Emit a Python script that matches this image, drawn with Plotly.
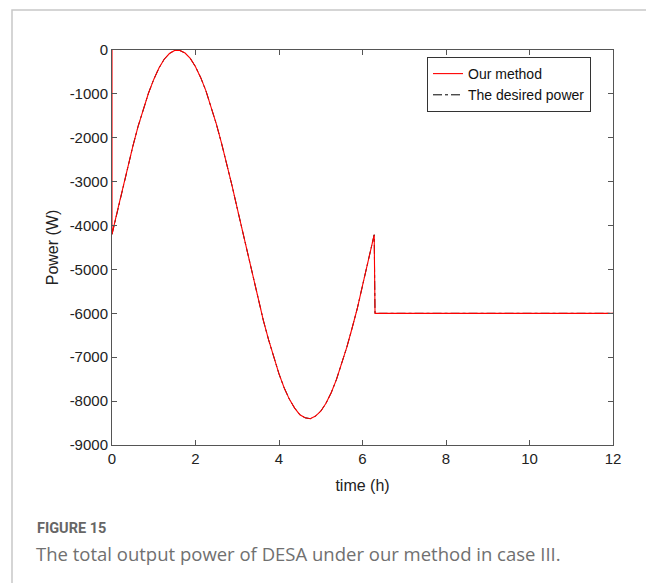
import plotly.graph_objects as go

# Time (h) and power (W)
time_h = [0, 0, 0.125, 0.25, 0.375, 0.5, 0.625, 0.75, 0.875, 1.0, 1.125, 1.25, 1.375, 1.5,
          1.625, 1.75, 1.875, 2.0, 2.125, 2.25, 2.375, 2.5, 2.625, 2.75, 2.875, 3.0, 3.125,
          3.25, 3.375, 3.5, 3.625, 3.75, 3.875, 4.0, 4.125, 4.25, 4.375, 4.5, 4.625, 4.75,
          4.875, 5.0, 5.125, 5.25, 5.375, 5.5, 5.625, 5.75, 5.875, 6.0, 6.125, 6.25, 6.28,
          6.3, 12]
our_method = [0, -4200, -3680, -3160, -2660, -2190, -1740, -1340, -980, -670, -410, -210,
              -80, -10, -10, -70, -190, -380, -630, -930, -1290, -1690, -2130, -2600, -3090,
              -3610, -4130, -4650, -5170, -5670, -6160, -6600, -7020, -7380, -7700, -7960,
              -8160, -8310, -8380, -8400, -8340, -8230, -8050, -7810, -7510, -7160, -6770,
              -6340, -5890, -5370, -4860, -4340, -4210, -6000, -6000]
desired_time = time_h[1:]
desired_power = our_method[1:]

x_ticks = [0, 2, 4, 6, 8, 10, 12]
y_ticks = [0, -1000, -2000, -3000, -4000, -5000, -6000, -7000, -8000, -9000]

fig = go.Figure()
fig.add_trace(go.Scatter(x=desired_time, y=desired_power, mode="lines", name="The desired power",
                         line=dict(color="black", width=1, dash="dashdot")))
fig.add_trace(go.Scatter(x=time_h, y=our_method, mode="lines", name="Our method",
                         line=dict(color="#ff0000", width=1.1)))

font_fam = "Liberation Sans, Arial"
axis_common = dict(showline=True, linecolor="#555555", linewidth=1, mirror="ticks",
                   ticks="inside", ticklen=5, tickcolor="#555555", showgrid=False, zeroline=False,
                   tickfont=dict(family=font_fam, size=15, color="#222222"))
fig.update_xaxes(range=[0, 12], tickvals=x_ticks, ticktext=[str(v) for v in x_ticks],
                 title=dict(text="time (h)", font=dict(family=font_fam, size=16, color="#222222"), standoff=13),
                 **axis_common)
fig.update_yaxes(range=[-9000, 0], tickvals=y_ticks, ticktext=[str(v) for v in y_ticks],
                 title=dict(text="Power (W)", font=dict(family=font_fam, size=16, color="#222222"), standoff=7),
                 **axis_common)

# page body has an 8px margin, so figure is offset by 8px
fig.update_layout(
    width=646, height=575,
    margin=dict(l=104, r=41, t=42, b=138),
    paper_bgcolor="white", plot_bgcolor="white",
    showlegend=True,
    legend=dict(x=(427-112)/501, y=(445-57)/395, xanchor="left", yanchor="top",
                bgcolor="white", bordercolor="#333333", borderwidth=1,
                traceorder="reversed",
                font=dict(family=font_fam, size=14, color="#111111"),
                tracegroupgap=0, itemwidth=30),
    shapes=[dict(type="rect", xref="paper", yref="paper", x0=(12-112)/501, x1=(652-112)/501,
                 y0=-0.5, y1=(445-10)/395,
                 line=dict(color="#c8c8c8", width=1.5), fillcolor="rgba(0,0,0,0)", layer="below")],
    annotations=[
        dict(text="<b>FIGURE 15</b>", xref="paper", yref="paper", x=(35-112)/501, y=(445-528)/395,
             xanchor="left", yanchor="middle", showarrow=False,
             font=dict(family="Roboto", size=14.5, color="#666666")),
        dict(text="The total output power of DESA under our method in case III.", xref="paper", yref="paper",
             x=(34-112)/501, y=(445-553)/395, xanchor="left", yanchor="middle", showarrow=False,
             font=dict(family="Open Sans", size=18.5, color="#707070")),
    ],
)

fig.write_html("out.html")
